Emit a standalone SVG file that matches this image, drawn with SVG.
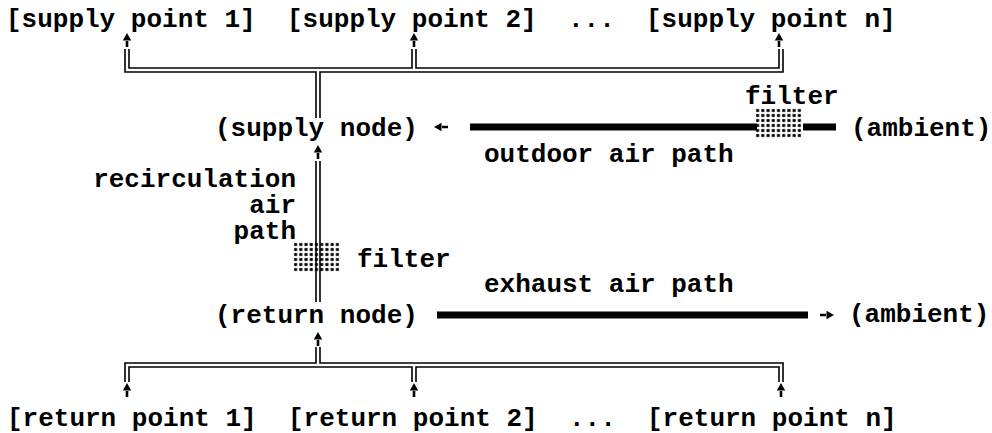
<svg xmlns="http://www.w3.org/2000/svg" width="992" height="433" viewBox="0 0 992 433">
  <style>
    text { font-family: "Liberation Mono", "DejaVu Sans Mono", monospace; font-weight: bold; font-size: 26px; fill: #000; }
    .dbl { stroke: #000; stroke-width: 1.6; fill: none; }
    .thick { stroke: #000; stroke-width: 3.4; fill: none; }
    .filt { fill: url(#dots); }
  </style>
  <defs>
    <pattern id="dots" patternUnits="objectBoundingBox" patternContentUnits="userSpaceOnUse" width="0.1111" height="0.16667">
      <rect x="1.1" y="1" width="3" height="3" fill="#000"/>
    </pattern>
    <path id="arrUp" d="M0,0 L-4.2,7.5 L4.2,7.5 Z M-1.3,7 H1.3 V14 H-1.3 Z" fill="#000"/>
  </defs>
  <rect width="992" height="433" fill="#fff"/>

  <g id="connectors">
    <!-- supply distribution tree -->
    <use href="#arrUp" x="127" y="33"/>
    <use href="#arrUp" x="414" y="33"/>
    <use href="#arrUp" x="779" y="33"/>
    <path class="dbl" d="M125,49 V72 H316 V118 M320,118 V72 H783 V49 M129,49 V68 H412 V49 M416,49 V68 H779 V49"/>
    <!-- recirculation path -->
    <use href="#arrUp" x="318" y="145"/>
    <path class="dbl" d="M316,161 V302 M320,161 V302"/>
    <!-- outdoor air path -->
    <path class="thick" d="M470,125.3 H757 M470,128.7 H757 M803,125.3 H836 M803,128.7 H836"/>
    <use href="#arrUp" transform="translate(434,127) rotate(-90)"/>
    <!-- exhaust air path -->
    <path class="thick" d="M437,313.3 H808 M437,316.7 H808"/>
    <use href="#arrUp" transform="translate(834,315) rotate(90)"/>
    <!-- return collection tree -->
    <use href="#arrUp" x="318" y="332"/>
    <path class="dbl" d="M316,347 V363 H125 V382 M320,347 V363 H783 V382 M129,382 V367 H412 V382 M416,382 V367 H779 V382"/>
    <use href="#arrUp" x="127" y="383"/>
    <use href="#arrUp" x="414" y="383"/>
    <use href="#arrUp" x="781" y="383"/>
  </g>

  <g id="supply-point-1"><text x="6" y="27">[supply point 1]</text></g>
  <g id="supply-point-2"><text x="287" y="27">[supply point 2]</text></g>
  <g id="supply-dots"><text x="568" y="27">...</text></g>
  <g id="supply-point-n"><text x="646" y="27">[supply point n]</text></g>

  <g id="supply-node"><text x="215" y="136">(supply node)</text></g>
  <g id="outdoor-filter">
    <rect class="filt" x="755" y="108" width="47" height="30"/>
    <text x="745" y="104">filter</text>
  </g>
  <g id="ambient-in"><text x="851" y="136">(ambient)</text></g>
  <g id="outdoor-label"><text x="484" y="162">outdoor air path</text></g>

  <g id="recirc-label">
    <text text-anchor="end"><tspan x="296" y="187">recirculation</tspan><tspan x="296" y="213">air</tspan><tspan x="296" y="239">path</tspan></text>
  </g>
  <g id="recirc-filter">
    <rect class="filt" x="293" y="242" width="47" height="30"/>
    <text x="357" y="267">filter</text>
  </g>

  <g id="exhaust-label"><text x="484" y="292">exhaust air path</text></g>
  <g id="return-node"><text x="215" y="323">(return node)</text></g>
  <g id="ambient-out"><text x="849" y="322">(ambient)</text></g>

  <g id="return-point-1"><text x="7" y="426">[return point 1]</text></g>
  <g id="return-point-2"><text x="288" y="426">[return point 2]</text></g>
  <g id="return-dots"><text x="569" y="426">...</text></g>
  <g id="return-point-n"><text x="647" y="426">[return point n]</text></g>
</svg>
